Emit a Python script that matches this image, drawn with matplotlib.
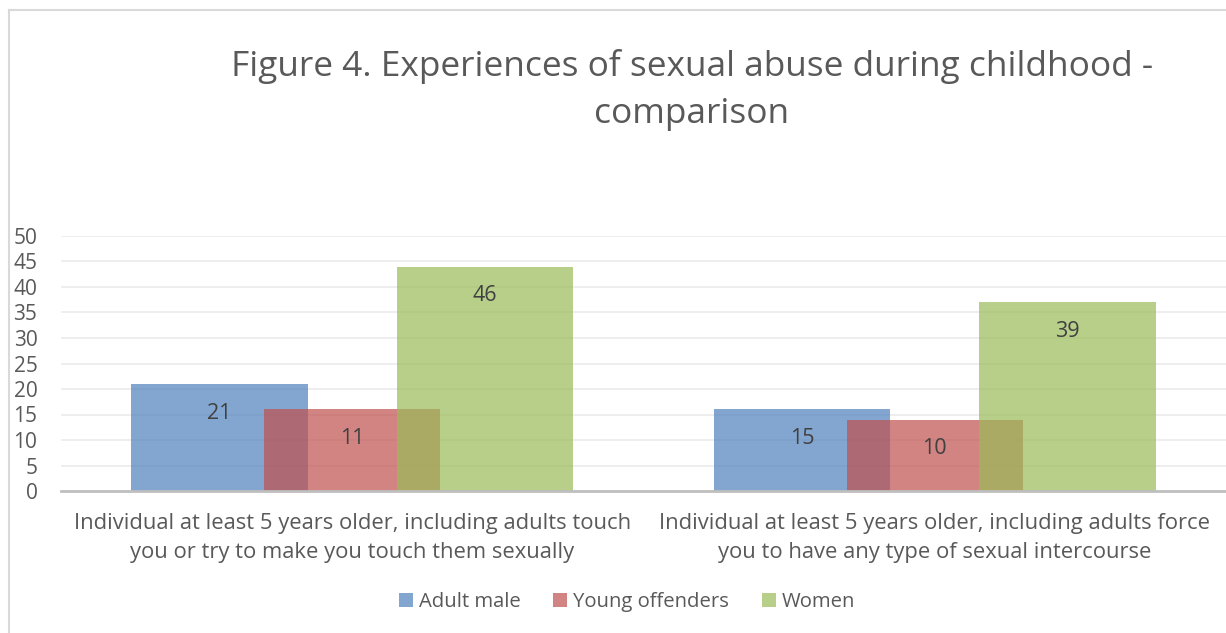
import numpy as np
import matplotlib.pyplot as plt
from matplotlib.lines import Line2D

plt.rcParams['font.family'] = ['Open Sans', 'DejaVu Sans']

categories = ['Individual at least 5 years older, including adults touch\nyou or try to make you touch them sexually',
              'Individual at least 5 years older, including adults force\nyou to have any type of sexual intercourse']
series = ['Adult male', 'Young offenders', 'Women']
heights = {'Adult male': [21, 16],
           'Young offenders': [16, 14],
           'Women': [44, 37]}
labels = {'Adult male': ['21', '15'],
          'Young offenders': ['11', '10'],
          'Women': ['46', '39']}
colors = ['#4F81BD', '#C0504D', '#9BBB59']
yticks = [0, 5, 10, 15, 20, 25, 30, 35, 40, 45, 50]

grey = '#595959'

fig = plt.figure(figsize=(12.26, 6.33), dpi=100)
ax = fig.add_axes([61 / 1226, 1 - 491 / 633, (1226 - 61) / 1226, 255 / 633])

x = np.arange(len(categories))
width = 0.303
offset = 0.228
for i, s in enumerate(series):
    pos = x + (i - 1) * offset
    bars = ax.bar(pos, heights[s], width, color=colors[i], alpha=0.7,
                  label=s, zorder=2)
    for b, lab in zip(bars, labels[s]):
        ax.annotate(lab, (b.get_x() + b.get_width() / 2, b.get_height()),
                    xytext=(0, -21), textcoords='offset points',
                    ha='center', va='center', fontsize=15.5, color='#404040',
                    zorder=3)

ax.set_xlim(-0.5, 1.5)
ax.set_ylim(0, 50)
ax.set_yticks(yticks)
ax.set_yticklabels([str(t) for t in yticks], fontsize=15, color=grey)
ax.set_xticks(x)
ax.set_xticklabels(categories, fontsize=15.8, color=grey, linespacing=1.5)
ax.tick_params(axis='both', length=0)
ax.tick_params(axis='y', pad=17)
ax.tick_params(axis='x', pad=16)
ax.grid(axis='y', color='#EBEBEB', linewidth=1.2, zorder=0)
for sp in ['top', 'right', 'left']:
    ax.spines[sp].set_visible(False)
ax.spines['bottom'].set_color('#BFBFBF')
ax.spines['bottom'].set_linewidth(2)
ax.spines['bottom'].set_zorder(4)

fig.text(692 / 1226, 1 - 90 / 633,
         'Figure 4. Experiences of sexual abuse during childhood -\ncomparison',
         ha='center', va='center', fontsize=25.4, color=grey, linespacing=1.48)

leg = fig.legend(loc='center', bbox_to_anchor=(627 / 1226, 1 - 602 / 633),
                 ncol=3, frameon=False, fontsize=14.6, handlelength=0.7,
                 handleheight=0.7, handletextpad=0.3, columnspacing=1.6)
for t in leg.get_texts():
    t.set_color(grey)

# outer chart border
fig.add_artist(Line2D([9 / 1226, 9 / 1226], [0, 1 - 10 / 633],
                      transform=fig.transFigure, color='#D9D9D9', linewidth=1.5))
fig.add_artist(Line2D([9 / 1226, 1], [1 - 10 / 633, 1 - 10 / 633],
                      transform=fig.transFigure, color='#D9D9D9', linewidth=1.5))

fig.savefig('out.png', dpi=100, facecolor='white')
